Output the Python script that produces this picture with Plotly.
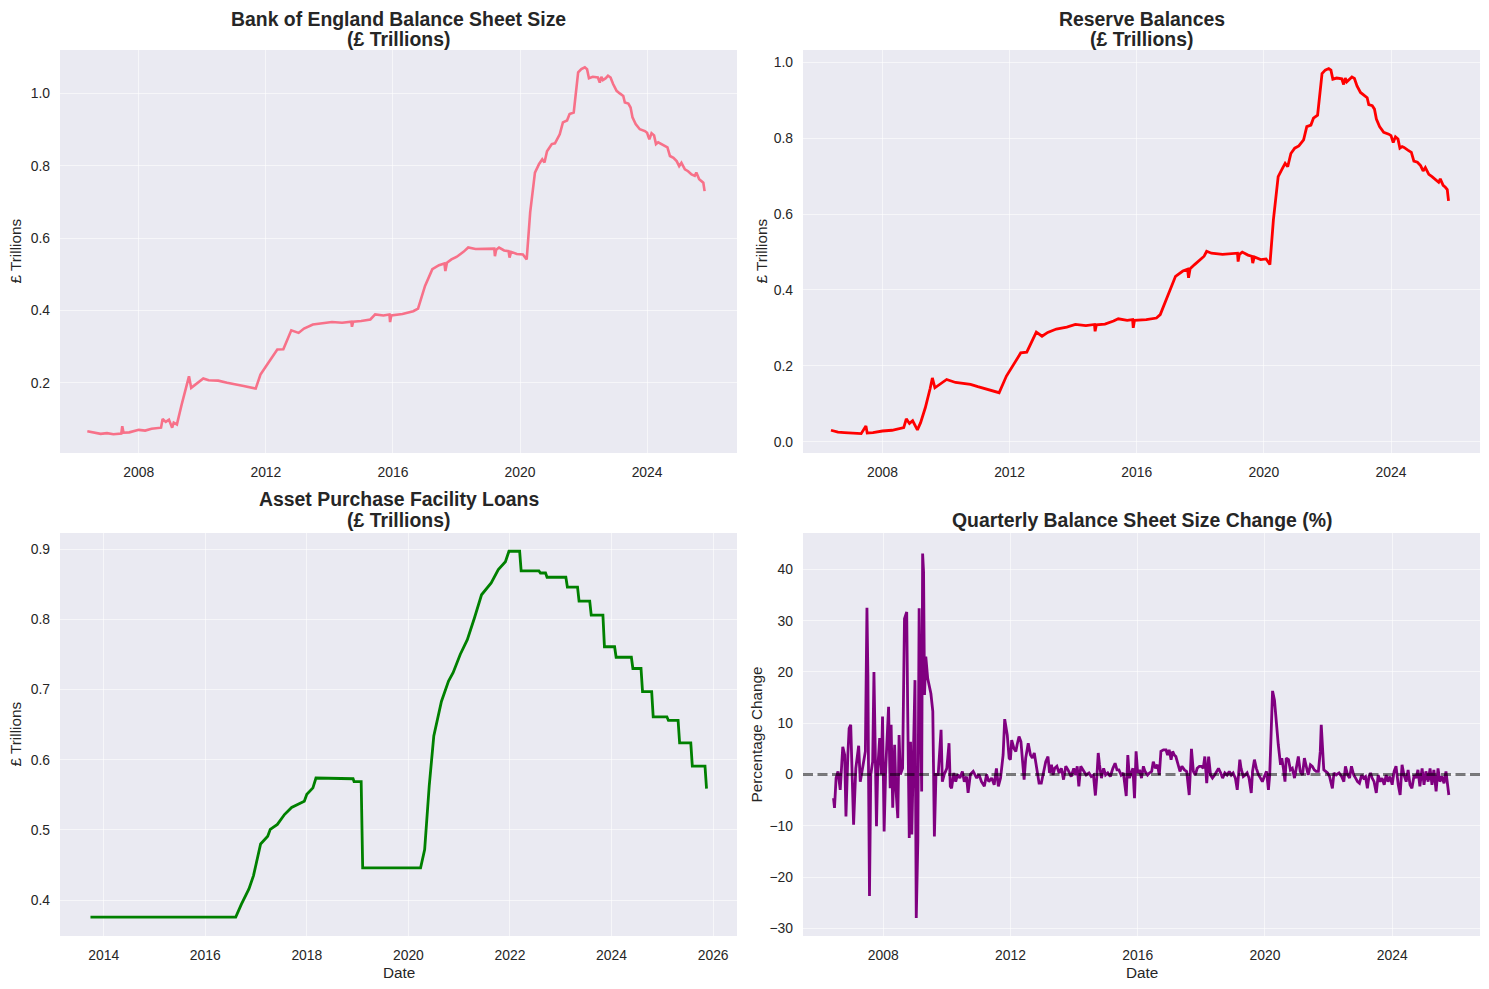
import plotly.graph_objects as go

# ---------------- data ----------------
bs_year = [2006.38, 2006.6, 2006.8, 2007.0, 2007.2, 2007.45, 2007.48, 2007.52, 2007.7, 2008.0, 2008.2, 2008.4,
           2008.6, 2008.7, 2008.75, 2008.85, 2008.95, 2009.05, 2009.1, 2009.2, 2009.35, 2009.5, 2009.58, 2009.65,
           2009.8, 2010.03, 2010.2, 2010.5, 2010.78, 2011.0, 2011.3, 2011.68, 2011.83, 2012.0, 2012.2, 2012.36,
           2012.55, 2012.68, 2012.8, 2013.03, 2013.2, 2013.48, 2013.8, 2014.08, 2014.4, 2014.69, 2014.71, 2014.75,
           2015.0, 2015.29, 2015.44, 2015.7, 2015.89, 2015.91, 2015.95, 2016.3, 2016.64, 2016.79, 2017.01, 2017.24,
           2017.45, 2017.62, 2017.65, 2017.7, 2017.84, 2018.0, 2018.22, 2018.37, 2018.6, 2018.9, 2019.19, 2019.21,
           2019.25, 2019.34, 2019.5, 2019.64, 2019.67, 2019.72, 2019.9, 2020.09, 2020.21, 2020.32, 2020.47, 2020.6,
           2020.70, 2020.77, 2020.85, 2021.0, 2021.1,
           2021.25, 2021.35, 2021.48, 2021.56, 2021.69, 2021.75, 2021.83, 2021.93, 2022.04, 2022.11,
           2022.17, 2022.29, 2022.45, 2022.51, 2022.56, 2022.61, 2022.70, 2022.77, 2022.85, 2022.93,
           2023.04, 2023.14, 2023.25, 2023.30, 2023.41, 2023.48, 2023.54, 2023.64, 2023.77, 2023.93,
           2024.00, 2024.07, 2024.14, 2024.22, 2024.28, 2024.35, 2024.41, 2024.53, 2024.64, 2024.72,
           2024.83, 2024.93, 2025.01, 2025.08, 2025.19, 2025.29, 2025.40, 2025.50, 2025.55, 2025.64,
           2025.71, 2025.77, 2025.81]
bs_value = [0.066, 0.062, 0.059, 0.061, 0.058, 0.060, 0.080, 0.062, 0.063, 0.070, 0.068, 0.073,
            0.074, 0.076, 0.100, 0.092, 0.098, 0.076, 0.090, 0.085, 0.140, 0.190, 0.218, 0.186,
            0.196, 0.212, 0.207, 0.206, 0.200, 0.197, 0.191, 0.184, 0.223, 0.245, 0.270, 0.292,
            0.293, 0.320, 0.345, 0.338, 0.350, 0.361, 0.364, 0.368, 0.366, 0.369, 0.355, 0.369,
            0.371, 0.375, 0.389, 0.386, 0.389, 0.368, 0.386, 0.390, 0.398, 0.405, 0.468, 0.514,
            0.525, 0.530, 0.509, 0.532, 0.541, 0.548, 0.562, 0.574, 0.570, 0.570, 0.571, 0.550,
            0.568, 0.574, 0.566, 0.564, 0.546, 0.562, 0.556, 0.555, 0.541, 0.671, 0.781, 0.805,
            0.818, 0.809, 0.840, 0.860, 0.862,
            0.887, 0.920, 0.925, 0.943, 0.947, 0.989, 1.058, 1.067, 1.072, 1.067,
            1.042, 1.046, 1.044, 1.030, 1.046, 1.037, 1.042, 1.049, 1.044, 1.026,
            1.007, 1.000, 0.993, 0.975, 0.972, 0.961, 0.934, 0.915, 0.901, 0.896,
            0.891, 0.873, 0.890, 0.884, 0.860, 0.865, 0.862, 0.855, 0.851, 0.827,
            0.822, 0.813, 0.799, 0.808, 0.790, 0.785, 0.776, 0.772, 0.781, 0.763,
            0.758, 0.753, 0.730]

rb_year = [2006.38, 2006.6, 2006.8, 2007.0, 2007.33, 2007.48, 2007.52, 2007.7, 2008.0, 2008.3, 2008.5, 2008.67,
           2008.75, 2008.85, 2008.95, 2009.1, 2009.2, 2009.35, 2009.5, 2009.57, 2009.65, 2009.8, 2010.02, 2010.3,
           2010.77, 2011.0, 2011.3, 2011.67, 2011.9, 2012.1, 2012.35, 2012.54, 2012.7, 2012.84, 2013.02, 2013.2,
           2013.47, 2013.8, 2014.07, 2014.4, 2014.67, 2014.69, 2014.73, 2015.0, 2015.27, 2015.42, 2015.7, 2015.87,
           2015.89, 2015.93, 2016.3, 2016.62, 2016.74, 2017.0, 2017.22, 2017.45, 2017.6, 2017.63, 2017.68, 2017.82,
           2018.12, 2018.2, 2018.35, 2018.7, 2019.17, 2019.19, 2019.23, 2019.32, 2019.5, 2019.62, 2019.65, 2019.7,
           2019.9, 2020.07, 2020.19, 2020.3, 2020.45, 2020.58, 2020.67, 2020.75, 2020.85, 2020.97, 2021.1,
           2021.25, 2021.35, 2021.48, 2021.56, 2021.69, 2021.75, 2021.83, 2021.93, 2022.04, 2022.11,
           2022.17, 2022.29, 2022.45, 2022.51, 2022.56, 2022.61, 2022.70, 2022.77, 2022.85, 2022.93,
           2023.04, 2023.14, 2023.25, 2023.30, 2023.41, 2023.48, 2023.54, 2023.64, 2023.77, 2023.93,
           2024.00, 2024.07, 2024.14, 2024.22, 2024.28, 2024.35, 2024.41, 2024.53, 2024.64, 2024.72,
           2024.83, 2024.93, 2025.01, 2025.08, 2025.19, 2025.29, 2025.40, 2025.50, 2025.55, 2025.64,
           2025.71, 2025.77, 2025.81]
rb_value = [0.030, 0.025, 0.024, 0.023, 0.021, 0.041, 0.023, 0.024, 0.028, 0.030, 0.033, 0.037,
            0.060, 0.048, 0.055, 0.031, 0.050, 0.090, 0.140, 0.168, 0.142, 0.150, 0.164, 0.156,
            0.151, 0.145, 0.138, 0.129, 0.173, 0.200, 0.234, 0.236, 0.265, 0.289, 0.278, 0.288,
            0.297, 0.302, 0.309, 0.306, 0.309, 0.291, 0.308, 0.310, 0.318, 0.324, 0.320, 0.322,
            0.300, 0.320, 0.322, 0.326, 0.335, 0.392, 0.436, 0.450, 0.455, 0.432, 0.456, 0.467,
            0.489, 0.502, 0.497, 0.494, 0.497, 0.475, 0.494, 0.500, 0.492, 0.489, 0.471, 0.487,
            0.480, 0.482, 0.467, 0.585, 0.699, 0.720, 0.734, 0.725, 0.760, 0.774, 0.780,
            0.796, 0.831, 0.835, 0.853, 0.861, 0.905, 0.971, 0.980, 0.984, 0.980,
            0.956, 0.959, 0.957, 0.942, 0.959, 0.949, 0.956, 0.962, 0.958, 0.938,
            0.921, 0.914, 0.907, 0.889, 0.886, 0.877, 0.851, 0.831, 0.816, 0.811,
            0.807, 0.789, 0.804, 0.798, 0.774, 0.778, 0.776, 0.769, 0.763, 0.740,
            0.737, 0.728, 0.714, 0.723, 0.705, 0.699, 0.690, 0.684, 0.693, 0.676,
            0.671, 0.665, 0.635]

apf_year = [2013.74, 2016.6, 2016.71, 2016.86, 2016.95, 2017.0, 2017.09, 2017.23, 2017.28, 2017.42, 2017.56,
            2017.70, 2017.84, 2017.95, 2018.0, 2018.12, 2018.18, 2018.91, 2018.93, 2019.07, 2019.10, 2020.24,
            2020.32, 2020.41, 2020.50, 2020.65, 2020.79, 2020.88, 2021.02, 2021.16, 2021.30, 2021.44, 2021.63,
            2021.77, 2021.91, 2021.98, 2022.19, 2022.22, 2022.57, 2022.60, 2022.70, 2022.73, 2023.10, 2023.13,
            2023.33, 2023.36, 2023.57, 2023.60, 2023.83, 2023.86, 2024.06, 2024.09, 2024.39, 2024.42, 2024.58,
            2024.61, 2024.79, 2024.82, 2025.09, 2025.12, 2025.31, 2025.34, 2025.56, 2025.59, 2025.84, 2025.87]
apf_value = [0.376, 0.376, 0.394, 0.416, 0.435, 0.451, 0.480, 0.491, 0.501, 0.508, 0.522,
             0.532, 0.537, 0.541, 0.551, 0.560, 0.574, 0.573, 0.569, 0.569, 0.446, 0.446,
             0.472, 0.563, 0.634, 0.683, 0.712, 0.724, 0.750, 0.771, 0.802, 0.835, 0.852,
             0.871, 0.882, 0.897, 0.897, 0.869, 0.869, 0.866, 0.866, 0.860, 0.860, 0.846,
             0.846, 0.826, 0.826, 0.806, 0.806, 0.761, 0.761, 0.746, 0.746, 0.730, 0.730,
             0.697, 0.697, 0.661, 0.661, 0.656, 0.656, 0.624, 0.624, 0.591, 0.591, 0.559]

pct_year = [2006.44, 2006.47, 2006.52, 2006.58, 2006.65, 2006.73, 2006.79, 2006.83, 2006.89, 2006.93, 2006.98,
            2007.02, 2007.07, 2007.14, 2007.23, 2007.28, 2007.33, 2007.38, 2007.44, 2007.49, 2007.52, 2007.54,
            2007.57, 2007.61, 2007.67, 2007.71, 2007.75, 2007.79, 2007.83, 2007.89, 2007.94, 2007.98, 2008.03,
            2008.08, 2008.17, 2008.22, 2008.25, 2008.30, 2008.36, 2008.40, 2008.46, 2008.50, 2008.54, 2008.61,
            2008.67, 2008.74, 2008.77, 2008.82, 2008.86, 2008.90, 2008.95, 2009.00, 2009.04, 2009.09, 2009.13,
            2009.17, 2009.21, 2009.24, 2009.27, 2009.30, 2009.34, 2009.40, 2009.50, 2009.56, 2009.61, 2009.66,
            2009.73, 2009.82, 2009.86, 2009.92, 2010.00, 2010.07, 2010.11, 2010.15, 2010.22, 2010.28, 2010.34,
            2010.41, 2010.49, 2010.55, 2010.62, 2010.67, 2010.74, 2010.83, 2010.94, 2011.01, 2011.09, 2011.18,
            2011.25, 2011.32, 2011.41, 2011.49, 2011.56, 2011.62, 2011.69, 2011.77,
            2011.82, 2011.90, 2011.96, 2012.00, 2012.04, 2012.11, 2012.17, 2012.21, 2012.27, 2012.33, 2012.38,
            2012.43, 2012.48, 2012.56, 2012.63, 2012.69, 2012.75, 2012.82, 2012.90, 2012.97, 2013.03, 2013.11,
            2013.18, 2013.23, 2013.29, 2013.34, 2013.39, 2013.46, 2013.53, 2013.60, 2013.67, 2013.74, 2013.81,
            2013.86, 2013.91, 2013.99, 2014.05, 2014.10, 2014.15, 2014.21, 2014.28, 2014.33, 2014.38, 2014.47,
            2014.54, 2014.61, 2014.67, 2014.72, 2014.76, 2014.80, 2014.86, 2014.93, 2014.99, 2015.06, 2015.14,
            2015.22, 2015.29, 2015.35, 2015.41, 2015.48, 2015.55, 2015.64, 2015.69, 2015.74, 2015.79, 2015.85,
            2015.90, 2015.95, 2016.00, 2016.06, 2016.12, 2016.18, 2016.23, 2016.31, 2016.37, 2016.44, 2016.49,
            2016.56, 2016.62, 2016.68, 2016.73, 2016.81, 2016.89, 2016.94, 2016.99, 2017.05, 2017.10, 2017.15,
            2017.20, 2017.27, 2017.33, 2017.39, 2017.47, 2017.54, 2017.62, 2017.69, 2017.75, 2017.81, 2017.87,
            2017.94, 2018.01, 2018.06, 2018.11, 2018.17, 2018.23, 2018.29, 2018.35, 2018.42, 2018.48, 2018.54,
            2018.61, 2018.67, 2018.74, 2018.81, 2018.88, 2018.94, 2019.00, 2019.07, 2019.13, 2019.17, 2019.21,
            2019.25, 2019.32, 2019.38, 2019.44, 2019.50, 2019.57, 2019.61, 2019.67, 2019.73, 2019.80, 2019.86,
            2019.92, 2019.98, 2020.05, 2020.11, 2020.15, 2020.20, 2020.24, 2020.30, 2020.36, 2020.42, 2020.49,
            2020.53, 2020.58, 2020.63, 2020.67, 2020.74, 2020.80, 2020.86, 2020.93, 2020.99, 2021.05, 2021.11,
            2021.18, 2021.24, 2021.30, 2021.36, 2021.43, 2021.49, 2021.55, 2021.61, 2021.68, 2021.74, 2021.77,
            2021.80, 2021.85, 2021.91, 2021.97, 2022.03, 2022.12, 2022.17, 2022.24, 2022.33, 2022.41, 2022.48,
            2022.53, 2022.60, 2022.66, 2022.72, 2022.79, 2022.85, 2022.91, 2022.97, 2023.04, 2023.10, 2023.16,
            2023.22, 2023.27, 2023.32, 2023.37, 2023.43, 2023.50, 2023.56, 2023.62, 2023.68, 2023.75, 2023.81,
            2023.87, 2023.93, 2024.00, 2024.06, 2024.12, 2024.19, 2024.25, 2024.31, 2024.37, 2024.44, 2024.50,
            2024.56, 2024.62, 2024.69, 2024.75, 2024.81, 2024.87, 2024.94, 2025.00, 2025.06, 2025.13, 2025.19,
            2025.25, 2025.31, 2025.38, 2025.44, 2025.50, 2025.56, 2025.63, 2025.69, 2025.78]
pct_value = [-4.6, -6.5, -0.7, 0.6, -3.0, 5.4, 3.8, -8.2, 3.8, 9.0, 9.7,
             0.0, -9.8, 1.2, 5.6, -1.4, 0.6, 2.5, 4.5, 32.5, 19.4, 0.0,
             -23.7, 0.0, 2.5, 20.0, 3.2, -10.1, 1.2, 7.1, 0.0, 11.3, -11.1,
             1.2, 13.2, -2.7, 9.7, -6.5, 5.8, -2.7, -8.5, 7.7, 0.0, 1.2,
             30.4, 31.7, 12.9, -12.4, 6.4, -11.7, 3.8, 18.4, -28.0, -13.0, 32.4,
             12.9, -3.3, 43.1, 39.5, 15.5, 23.0, 18.7, 15.8, 12.3, -12.1, 0.0,
             0.0, 8.7, -1.4, 0.0, 1.2, 6.1, -2.3, -2.7, 0.3, -1.4, 0.0,
             -0.7, 0.6, -1.4, -0.4, -3.6, 0.0, 0.6, -0.7, 0.0, -1.4, -2.3,
             0.0, -1.4, -0.7, -2.0, 1.2, -2.3, -0.7, 3.8,
             10.8, 7.7, 3.2, 2.9, 6.7, 5.1, 4.5, 5.8, 7.4, 6.4, 3.2,
             -1.0, 3.2, 6.1, 3.8, 3.2, 4.2, 1.2, -1.7, -1.7, 0.3, 2.5,
             3.5, 0.3, 1.9, -0.1, 1.2, 1.6, 0.3, 1.2, -1.0, 1.6, 0.9,
             0.3, -0.4, 1.2, -0.1, 1.6, -2.3, 1.6, 0.9, 0.3, -0.1, 0.3,
             -0.4, -0.1, -4.1, -0.1, 4.2, 1.9, -0.7, 1.2, -0.1, 0.3, -0.4,
             1.2, 2.2, 0.9, 0.9, -0.1, 0.3, -4.2, 3.8, -0.7, 0.3, 1.2,
             -4.6, 4.5, 0.3, 0.9, -0.7, 1.6, 0.6, -0.1, 0.3, 0.6, 2.5,
             1.2, 1.9, -0.1, 4.5, 4.8, 4.8, 3.8, 4.8, 2.9, 4.5, 3.8,
             3.5, 1.9, 0.6, 1.6, 0.9, 0.6, -4.0, 5.0, 0.6, -0.1, 1.2,
             1.6, 1.6, 1.2, 3.5, -1.7, 3.5, -0.1, -0.7, -0.1, 0.6, 1.2,
             0.3, -0.7, 0.3, -0.1, 0.6, -0.1, 0.3, -0.7, -3.0, 0.6, 2.9,
             1.2, -0.4, -0.1, 0.3, -0.7, -3.6, 0.6, 2.9, 1.2, -0.1, -0.7,
             -1.4, -0.4, 0.6, -3.0, -0.1, 9.0, 16.3, 14.5, 9.7, 5.8, 1.9,
             3.2, 1.2, -1.4, 3.2, 2.9, 0.9, 1.2, -0.7, 1.2, 3.5, 0.6,
             -0.1, 3.2, 1.2, -0.1, 1.9, 1.6, 0.9, 0.6, 0.6, 4.5, 9.7,
             6.4, 0.9, 0.6, 0.3, -0.4, -2.7, 0.3, -0.1, 0.3, -0.4, -1.4,
             1.6, -0.1, -0.7, 1.6, -0.1, -0.7, -1.4, -1.7, -0.1, -0.7, -0.4,
             -2.7, -0.4, 0.3, -0.7, -1.4, -3.6, -0.1, -1.4, -0.7, -2.0, -0.1,
             -1.4, -0.4, -2.0, 0.6, 1.6, -2.0, -4.0, 1.9, -0.1, -1.4, 0.9,
             -2.0, -2.7, -0.1, -0.7, 0.9, -2.3, 1.2, -2.0, 0.6, -1.4, 1.2,
             -2.0, 0.9, -3.3, 1.2, -1.4, -0.4, -1.7, 0.6, -4.0]

top_ticks = [2008, 2012, 2016, 2020, 2024]
apf_ticks = [2014, 2016, 2018, 2020, 2022, 2024, 2026]
bs_yticks = [0.2, 0.4, 0.6, 0.8, 1.0]
rb_yticks = [0.0, 0.2, 0.4, 0.6, 0.8, 1.0]
apf_yticks = [0.4, 0.5, 0.6, 0.7, 0.8, 0.9]
pct_yticks = [-30, -20, -10, 0, 10, 20, 30, 40]

# ---------------- styling ----------------
OFF = 8                      # default page margin around the plot div
W, H = 1489 - 2 * OFF, 989 - 2 * OFF
FONT = "Liberation Sans, Arial, sans-serif"
TXT = "#262626"
BG = "#EAEAF2"
GRID = "rgba(255,255,255,0.55)"

def px_x(a, b):
    return [(a - OFF) / W, (b - OFF) / W]

def px_y(top, bottom):
    return [1 - (bottom - OFF) / H, 1 - (top - OFF) / H]

fig = go.Figure()
fig.add_trace(go.Scatter(x=bs_year, y=bs_value, mode="lines", line=dict(color="#F77189", width=2.6),
                         xaxis="x", yaxis="y", showlegend=False))
fig.add_trace(go.Scatter(x=rb_year, y=rb_value, mode="lines", line=dict(color="#FF0000", width=2.8),
                         xaxis="x2", yaxis="y2", showlegend=False))
fig.add_trace(go.Scatter(x=apf_year, y=apf_value, mode="lines", line=dict(color="#008000", width=2.8),
                         xaxis="x3", yaxis="y3", showlegend=False))
fig.add_trace(go.Scatter(x=pct_year, y=pct_value, mode="lines", line=dict(color="#800080", width=2.8),
                         xaxis="x4", yaxis="y4", showlegend=False))

def xax(domain, rng, ticks, anchor):
    return dict(domain=domain, range=rng, anchor=anchor, tickmode="array", tickvals=ticks,
                ticktext=[str(t) for t in ticks], showgrid=True, gridcolor=GRID, gridwidth=1,
                zeroline=False, showline=False, ticks="", ticklabelstandoff=9,
                tickfont=dict(family=FONT, size=13.9, color=TXT))

def yax(domain, rng, ticks, anchor, fmt):
    return dict(domain=domain, range=rng, anchor=anchor, tickmode="array", tickvals=ticks,
                ticktext=[fmt(t) for t in ticks], showgrid=True, gridcolor=GRID, gridwidth=1,
                zeroline=False, showline=False, ticks="", ticklabelstandoff=9,
                tickfont=dict(family=FONT, size=13.9, color=TXT))

f1 = lambda v: f"{v:.1f}"
f0 = lambda v: (f"\u2212{abs(v):d}" if v < 0 else f"{v:d}")

LX, RX = (60, 737), (803, 1480)
TY, BY = (50, 453), (533, 936)

fig.update_layout(
    width=W, height=H, margin=dict(l=0, r=0, t=0, b=0),
    paper_bgcolor="white", plot_bgcolor=BG,
    font=dict(family=FONT, color=TXT),
    xaxis=xax(px_x(*LX), [2005.52, 2026.83], top_ticks, "y"),
    yaxis=yax(px_y(*TY), [0.006, 1.12], bs_yticks, "x", f1),
    xaxis2=xax(px_x(*RX), [2005.5, 2026.8], top_ticks, "y2"),
    yaxis2=yax(px_y(*TY), [-0.030, 1.033], rb_yticks, "x2", f1),
    xaxis3=xax(px_x(*LX), [2013.14, 2026.47], apf_ticks, "y3"),
    yaxis3=yax(px_y(*BY), [0.349, 0.923], apf_yticks, "x3", f1),
    xaxis4=xax(px_x(*RX), [2005.48, 2026.76], top_ticks, "y4"),
    yaxis4=yax(px_y(*BY), [-31.5, 47.1], pct_yticks, "x4", f0),
)

fig.add_shape(type="line", xref="x4 domain", yref="y4", x0=0, x1=1, y0=0, y1=0,
              line=dict(color="rgba(0,0,0,0.5)", width=2.8, dash="10px,4.5px"))

def ann(text, x, y, size, bold=False, angle=0):
    fig.add_annotation(text=(f"<b>{text}</b>" if bold else text), x=(x - OFF) / W, y=1 - (y - OFF) / H,
                       xref="paper", yref="paper", showarrow=False, textangle=angle,
                       xanchor="center", yanchor="middle", borderpad=0,
                       font=dict(family=FONT, size=size, color=TXT))

TS = 19.4
ann("Bank of England Balance Sheet Size", 398.5, 19.2, TS, True)
ann("(£ Trillions)", 398.5, 38.7, TS, True)
ann("Reserve Balances", 1141.5, 19.2, TS, True)
ann("(£ Trillions)", 1141.5, 38.7, TS, True)
ann("Asset Purchase Facility Loans", 398.5, 499.5, TS, True)
ann("(£ Trillions)", 398.5, 519.5, TS, True)
ann("Quarterly Balance Sheet Size Change (%)", 1141.5, 519.5, TS, True)

LS = 15.3
ann("£ Trillions", 15, 251.5, LS, angle=-90)
ann("£ Trillions", 761, 251.5, LS, angle=-90)
ann("£ Trillions", 15, 734.5, LS, angle=-90)
ann("Percentage Change", 756, 734.5, LS, angle=-90)
ann("Date", 398.5, 972, LS)
ann("Date", 1141.5, 972, LS)

fig.write_html("out.html")
